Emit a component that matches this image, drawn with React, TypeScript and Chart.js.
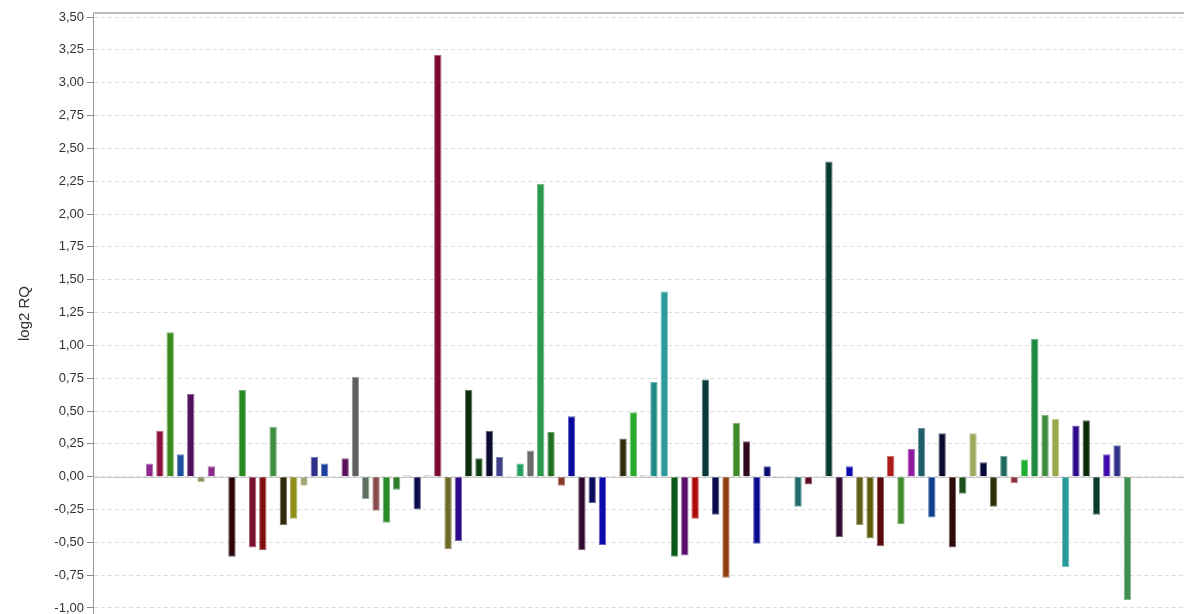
import React, { useEffect, useRef } from "react";
import { Chart, registerables } from "chart.js";

Chart.register(...registerables);

// log2 RQ values per sample slot (null = empty slot)
const padStart: (number | null)[] = [null, null, null, null, null];
const padEnd: (number | null)[] = [null, null, null, null, null];

const sampleValues: (number | null)[] = [
  0.10, 0.35, 1.10, 0.17, 0.63, -0.04, 0.08, null,
  -0.61, 0.66, -0.54, -0.56, 0.38, -0.37, -0.32, -0.07, 0.15, 0.10, null,
  0.14, 0.76, -0.17, -0.26, -0.35, -0.10, 0.01, -0.25, 0.01, 3.21, -0.55, -0.49,
  0.66, 0.14, 0.35, 0.15, null,
  0.10, 0.20, 2.23, 0.34, -0.07, 0.46, -0.56, -0.20, -0.52, null,
  0.29, 0.49, 0.01, 0.72, 1.41, -0.61, -0.60, -0.32, 0.74, -0.29, -0.77, 0.41,
  0.27, -0.51, 0.08, -0.01, null,
  -0.23, -0.06, null,
  2.40, -0.46, 0.08, -0.37, -0.47, -0.53, 0.16, -0.36, 0.21, 0.37, -0.31, 0.33,
  -0.54, -0.13, 0.33, 0.11, -0.23, 0.16, -0.05, 0.13, 1.05, 0.47, 0.44, -0.69,
  0.39, 0.43, -0.29, 0.17, 0.24, -0.94,
];

const sampleColors: string[] = [
  "#8E2A8E", "#8B0F3F", "#3A8A1E", "#1F4F9F", "#4F0F5F", "#8F8F5F", "#8E2A8E", "#ffffff",
  "#2A0508", "#2A8A22", "#7A0F2F", "#7F0F0F", "#3F8F3F", "#2F2A0A", "#8F8F1A", "#A5A570", "#2F2F8A", "#1F3F9F", "#ffffff",
  "#5A0F5A", "#606060", "#5F6F5F", "#8A4A4A", "#2A8A2A", "#2F7F2F", "#A0A0A0", "#0A0A4F", "#A0A0A0", "#7A0A2F", "#6F6A2A", "#2F0A8A",
  "#0F2F0F", "#0F3F0F", "#0A0A2F", "#3F3F8A", "#ffffff",
  "#1F9F5F", "#6A6A6A", "#2A9A4A", "#1F6F1F", "#8A3A2A", "#0A0A9A", "#2F0A2F", "#0A0A5F", "#0A0AAF", "#ffffff",
  "#2F2A0A", "#2AAA2A", "#A0A0A0", "#1F8A8A", "#2A9A9A", "#0A5A1A", "#5A0A6A", "#AF0A0A", "#0A3A3A", "#0A0A4F", "#8F3F0F", "#3F8A2A",
  "#2F0A1F", "#0A0A8F", "#0A0A6F", "#9A9AAA", "#ffffff",
  "#1F6A6A", "#5F0A1F", "#ffffff",
  "#0A3A2F", "#2F0A2F", "#0A0AAF", "#5F5F1A", "#5A5A0A", "#5A0A0A", "#AF1A1A", "#3F8A2A", "#8F1A9F", "#1F5F6A", "#0F3F8F", "#0A0A2F",
  "#2F0A0A", "#1F4F1F", "#9AAA5A", "#0A0A3A", "#2F2F0A", "#1F6A5F", "#8F2F3F", "#1FAF2F", "#1F8A3F", "#3F8A3F", "#9AAA4A", "#2A9A9A",
  "#2F0A8A", "#0A2A0A", "#0A3A2F", "#3F0AAF", "#2F2F8A", "#3F8F4F",
];

const values: (number | null)[] = [...padStart, ...sampleValues, ...padEnd];
const colors: string[] = [
  ...padStart.map(() => "#ffffff"),
  ...sampleColors,
  ...padEnd.map(() => "#ffffff"),
];
const categories: string[] = values.map((_, i) => String(i + 1));

const yMin = -1.0457;
const yMax = 3.5305;
const yStep = 0.25;
const yTitle = "log2 RQ";

function lighten(hex: string, amt: number): string {
  const n = parseInt(hex.slice(1), 16);
  const r = (n >> 16) & 255, g = (n >> 8) & 255, b = n & 255;
  const f = (c: number) => Math.round(c + (255 - c) * amt);
  return `rgb(${f(r)},${f(g)},${f(b)})`;
}

const framePlugin = {
  id: "frame",
  beforeDatasetsDraw(chart: any) {
    const { ctx, chartArea, scales } = chart;
    const y0 = Math.round(scales.y.getPixelForValue(0)) + 0.5;
    ctx.save();
    ctx.strokeStyle = "#c8c8c8";
    ctx.lineWidth = 1;
    ctx.beginPath();
    ctx.moveTo(chartArea.left, y0);
    ctx.lineTo(chartArea.right, y0);
    ctx.stroke();
    ctx.strokeStyle = "#bdbdbd";
    ctx.lineWidth = 2;
    ctx.beginPath();
    ctx.moveTo(chartArea.left, chartArea.top);
    ctx.lineTo(chartArea.right, chartArea.top);
    ctx.stroke();
    ctx.restore();
  },
};

export default function App() {
  const ref = useRef<HTMLCanvasElement | null>(null);
  useEffect(() => {
    document.body.style.margin = "0";
    const chart = new Chart(ref.current as HTMLCanvasElement, {
      type: "bar",
      data: {
        labels: categories,
        datasets: [
          {
            data: values as any,
            backgroundColor: colors,
            borderColor: colors.map((c) => lighten(c, 0.35)),
            borderWidth: 1,
            barPercentage: 0.72,
            categoryPercentage: 1,
          },
        ],
      },
      options: {
        animation: false,
        responsive: true,
        maintainAspectRatio: false,
        layout: { padding: { left: 0, top: 13, right: 0, bottom: 0 } },
        plugins: { legend: { display: false }, tooltip: { enabled: false } },
        scales: {
          x: { display: false, grid: { display: false } },
          y: {
            min: yMin,
            max: yMax,
            afterFit: (scale: any) => {
              scale.width = 93;
              scale.paddingTop = 0;
              scale.paddingBottom = 0;
            },
            ticks: {
              stepSize: yStep,
              includeBounds: false,
              color: "#333333",
              padding: 3,
              font: { family: "'Liberation Sans', Arial, sans-serif", size: 13 },
              callback: (v: any) => Number(v).toFixed(2).replace(".", ","),
            },
            grid: {
              color: "#dedede",
              lineWidth: 1,
              tickLength: 6,
              tickColor: "#888888",
              tickBorderDash: [],
            },
            border: { display: true, color: "#999999", width: 1, dash: [4, 3] },
            title: {
              display: true,
              text: yTitle,
              color: "#333333",
              font: { family: "'Liberation Sans', Arial, sans-serif", size: 15 },
              padding: { top: 16, bottom: 0 },
            },
          },
        },
      },
      plugins: [framePlugin],
    });
    return () => chart.destroy();
  }, []);
  return (
    <div style={{ width: 1184, height: 614, position: "relative" }}>
      <canvas ref={ref} />
    </div>
  );
}
